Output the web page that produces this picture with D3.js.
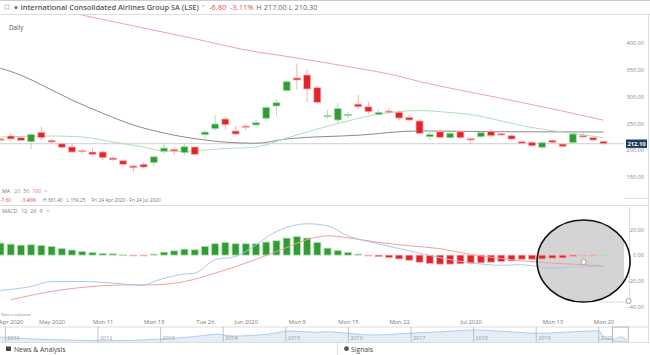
<!DOCTYPE html>
<html><head><meta charset="utf-8">
<script src="https://cdn.jsdelivr.net/npm/d3@7/dist/d3.min.js"></script>
<style>
body{margin:0;background:#fff;}
svg{display:block;font-family:"Open Sans",Lato,sans-serif;}
</style></head><body>
<svg id="c" width="650" height="355"></svg>
<script>
// ---------------- DATA ----------------
const ohlc = [ // [open, high, low, close], daily, Fri 24 Apr 2020 onward
[221,223,218,219.5],[226.5,232,217,221],[223.3,225,216.5,218.4],[215.8,231.5,201.6,229.6],[233.4,243.8,219,223.3],
[218.4,220.3,211,215.3],[212,214,202.8,205.4],[206,212,194,196.6],[199.5,203.5,194,199],[196.6,203.5,187.8,192.3],
[196.6,200,181.7,186],[185.4,187.8,180,182.2],[180.4,183,171,173.7],[170.5,173,159.25,167.4],[173.7,177.4,166,168.6],
[176.6,189,169,187.8],[198,212.8,193,204],[201.6,205.4,191,198.5],[195.3,211.5,191.6,206.5],[206,207.8,190,192.3],
[228.9,237.6,219,233.9],[240,265.6,236.3,248.9],[258.2,262.5,239,247.5],[235.8,245,228,230.2],[245,248.9,237.6,242.7],
[247,256.3,243.8,251.3],[259.5,282.4,254.5,280],[282.4,293.6,265,288.6],[311,331,307,327.8],[334.7,361.4,313.6,331],
[340.3,351,289,314.2],[316.6,319.8,285.6,289.3],[262.5,275,259.5,265],[256.3,288.6,248.9,278],[264.3,272,259.5,267],
[286,303,276,281],[281,290.5,267.5,272],[266.3,276,264.3,270.7],[273,278.7,267.5,271],[270.7,273.7,256.3,260],
[261.3,265.6,254.5,256.3],[254.5,257.6,230.2,231.5],[225,234.5,219,229.6],[234.5,239,222.2,224],[223.3,234.5,220.3,231.5],
[234.5,236.3,220.8,223.3],[221.4,223.3,211,219],[225,236.3,223.3,232.6],[235.2,239.5,225,227],[230.8,236.3,226.5,228.3],
[227,229.6,219,220.8],[215.8,217.7,211,212.8],[214.7,217,206.5,208.3],[205.4,215.8,202,214],[218.4,220.8,212.8,214.7],
[211.5,214,205.4,207.2],[214,232.6,212.8,230.2],[227,232.6,223.3,224.6],[223.3,226.5,217,218.9],[216.5,217,210.3,212.1]
];
const lastPrice = 212.10;
// moving averages, [day index, value]
const ma20 = [[0,224.6],[5,226.5],[8,224.6],[11,215.3],[14,206],[16,198.5],[18,197.6],[20,200.3],[22,203],[25,206],[28,222.7],[31,239.5],[34,254.5],[37,267.5],[39,272],[41,274],[44,270.3],[46,266.6],[49,254.5],[52,242.3],[55,234],[59,223.3]];
const ma50 = [[0,353],[2,340],[4,322],[7,293.6],[10,269],[13,247],[16,232],[20,219],[22,215],[25,213],[28,221],[35,228],[41,236],[49,234.5],[59,234]];
const ma100 = [[0,486],[8,452],[19,408],[24,387],[29,372],[34,356],[39,338],[41,328],[45,312],[50,293],[55,273],[59,256]];
// MACD 12 26 9
const macdHist = [9.3,8.5,7.7,8.0,7.5,6.7,5.1,3.9,2.8,2.0,1.3,1.0,0.2,-0.4,-0.5,0.8,2.3,3.3,4.6,4.1,
6.7,8.8,9.8,8.8,8.8,8.8,10.1,11.1,13.2,14.4,13.2,9.8,5.4,3.5,2.0,0.8,-0.5,-1.2,-2.0,-3.0,
-4.0,-5.5,-6.5,-7.0,-7.0,-6.8,-6.5,-6.0,-5.5,-5.0,-4.5,-3.2,-3.2,-3.0,-2.4,-2.2,-1.0,-0.3,-0.3,0];
const macdLine = [[0,-27.4],[3,-24.3],[5,-20.5],[8,-20.5],[11,-21.7],[14,-23.5],[15,-20.5],[18,-14.7],[19,-14],[21,-3.6],[23,-1.1],[24,2.8],[27,18.3],[29,23.5],[30,24.3],[32,22.7],[34,14.9],[37,8.7],[40,3.3],[43,-2],[46,-6],[49,-7.9],[51,-7.5],[54,-10.2],[56,-9.3],[59,-8.7]];
const signalLine = [[1,-34.6],[6,-26.9],[13,-23],[15,-23],[18,-20.5],[21,-14],[24,-6.2],[27,2.8],[31,14],[32,15],[34,13.4],[37,9.9],[40,7.2],[43,5],[46,0.5],[49,-2.6],[51,-4.5],[54,-6.2],[56,-7.1],[59,-8.3]];
// axis ticks
const xTickIdx = [1,5,10,15,20,24,29,34,39,46,54,59];
const xTickLabels = ["Apr 2020","May 2020","Mon 11","Mon 18","Tue 26","Jun 2020","Mon 8","Mon 15","Mon 22","Jul 2020","Mon 13","Mon 20"];
const priceTicks = [150,200,250,300,350,400];
const macdTicks = [-40,-20,0,20];
// navigator (history since 2010)
const navSeries = [[2010.43,267],[2010.96,160],[2011.5,107],[2012.03,70],[2012.56,90],[2012.99,160],[2013.52,283],[2013.9,411],[2014.16,320],[2014.7,411],[2015.07,587],[2015.5,517],[2015.63,550],[2015.99,464],[2016.42,373],[2016.95,464],[2017.5,550],[2018.02,640],[2018.55,550],[2019.03,464],[2019.62,550],[2019.99,603],[2020.1,197],[2020.26,144],[2020.34,267],[2020.45,107]];
const navYearPos = [2010.52,2012,2013,2014,2015,2016,2017,2018,2019,2020];
const navYearLabels = ["2010","2012","2013","2014","2015","2016","2017","2018","2019","2020"];
// ellipse annotation in data coordinates
const annot = {cx:57.05, cy:-4.6, rx:4.55, ry:31.8};

// ---------------- SCALES ----------------
const svg = d3.select("#c");
const W = 650;
const x = d3.scaleLinear().domain([0,59]).range([0.5,603.5]);
const yP = d3.scaleLinear().domain([150,400]).range([177,43]);
const yM = d3.scaleLinear().domain([-40,20]).range([306.7,229.3]);
const navX = d3.scaleLinear().domain([2012,2020]).range([98,598.8]);
const navY = d3.scaleLinear().domain([0,800]).range([342,327]);

const UP="#2f9d34", UPL="#b3deb3", DN="#e2232a", DNL="#f6b0b2";

// clip paths
const defs = svg.append("defs");
defs.append("clipPath").attr("id","pclip").append("rect").attr("x",0).attr("y",15).attr("width",624).attr("height",172);
defs.append("clipPath").attr("id","mclip").append("rect").attr("x",0).attr("y",207).attr("width",624).attr("height",106);

// ---------------- CHROME ----------------
svg.append("line").attr("x1",0).attr("x2",W).attr("y1",0.5).attr("y2",0.5).attr("stroke","#ccc");
svg.append("line").attr("x1",0).attr("x2",W).attr("y1",14.5).attr("y2",14.5).attr("stroke","#ddd");
svg.append("line").attr("x1",648.5).attr("x2",648.5).attr("y1",14).attr("y2",343).attr("stroke","#ddd");
svg.append("line").attr("x1",0).attr("x2",648).attr("y1",205.5).attr("y2",205.5).attr("stroke","#ddd");

// header
svg.append("rect").attr("x",5).attr("y",5).attr("width",4).attr("height",4).attr("fill","none").attr("stroke","#bbb").attr("stroke-width",0.8);
svg.append("circle").attr("cx",16).attr("cy",7.5).attr("r",1.6).attr("fill","#2a9d2a");
const hdr = svg.append("text").attr("x",20.5).attr("y",10).attr("font-size",7.4).attr("fill","#555");
hdr.append("tspan").attr("font-weight",600).text("International Consolidated Airlines Group SA (LSE)");
hdr.append("tspan").attr("fill","#aaa").attr("dx",3).text("\u02C5");
hdr.append("tspan").attr("fill","#e04a4a").attr("dx",4).text("-6.80");
hdr.append("tspan").attr("fill","#e04a4a").attr("dx",4).text("-3.11%");
hdr.append("tspan").attr("fill","#666").attr("dx",3).text("H 217.00 L 210.30");
svg.append("text").attr("x",9).attr("y",30).attr("font-size",6.3).attr("fill","#555").text("Daily");

// ---------------- PRICE PANEL ----------------
const pg = svg.append("g").attr("clip-path","url(#pclip)");
pg.append("line").attr("x1",0).attr("x2",626).attr("y1",yP(lastPrice)).attr("y2",yP(lastPrice)).attr("stroke","#d0d0d0");
const lineP = d3.line().x(d=>x(d[0])).y(d=>yP(d[1])).curve(d3.curveMonotoneX);
pg.append("path").attr("d",lineP(ma100)).attr("fill","none").attr("stroke","#f4a3a3").attr("stroke-width",1);
pg.append("path").attr("d",lineP(ma50)).attr("fill","none").attr("stroke","#8a8a8a").attr("stroke-width",1);
pg.append("path").attr("d",lineP(ma20)).attr("fill","none").attr("stroke","#b2dfb2").attr("stroke-width",1);

const cg = pg.selectAll("g.c").data(ohlc).join("g");
cg.append("line").attr("x1",(d,i)=>x(i)).attr("x2",(d,i)=>x(i))
  .attr("y1",d=>yP(d[1])).attr("y2",d=>yP(d[2]))
  .attr("stroke",d=>d[3]>=d[0]?UPL:DNL).attr("stroke-width",1);
cg.append("rect").attr("x",(d,i)=>x(i)-3.5).attr("width",7)
  .attr("y",d=>yP(Math.max(d[0],d[3])))
  .attr("height",d=>Math.max(1.2,Math.abs(yP(d[0])-yP(d[3]))))
  .attr("fill",d=>d[3]>=d[0]?UP:DN)
  .attr("stroke",d=>d[3]>=d[0]?UPL:DNL).attr("stroke-width",0.8);

// price axis
const pax = svg.append("g").attr("transform","translate(644,0)")
  .call(d3.axisLeft(yP).tickValues(priceTicks).tickFormat(d3.format(".2f")).tickSize(0).tickPadding(0));
pax.select(".domain").remove();
pax.selectAll("text").attr("font-size",5.6).attr("fill","#8a8a8a").attr("font-family","'Open Sans',sans-serif");
svg.append("line").attr("x1",624).attr("x2",648).attr("y1",198.5).attr("y2",198.5).attr("stroke","#ddd");
// last price box
svg.append("rect").attr("x",626).attr("y",yP(lastPrice)-4.2).attr("width",21).attr("height",8.4).attr("fill","#1e3a5f");
svg.append("text").attr("x",636.5).attr("y",yP(lastPrice)+2).attr("text-anchor","middle").attr("font-size",5.8).attr("font-weight",700).attr("fill","#fff").text(d3.format(".2f")(lastPrice));

// MA legend
const l1 = svg.append("text").attr("x",2).attr("y",193).attr("font-size",5.3).attr("fill","#777");
l1.append("tspan").text("MA");
l1.append("tspan").attr("dx",4).attr("fill","#5cb85c").text("20");
l1.append("tspan").attr("dx",3).attr("fill","#888").text("50");
l1.append("tspan").attr("dx",3).attr("fill","#e66").text("100");
l1.append("tspan").attr("dx",3).attr("fill","#999").text("\u00D7");
const l2 = svg.append("text").attr("x",0).attr("y",201.5).attr("font-size",4.8).attr("fill","#777");
l2.append("tspan").attr("fill","#e04a4a").text("-7.60");
l2.append("tspan").attr("fill","#e04a4a").attr("dx",10).text("-3.46%");
l2.append("tspan").attr("dx",7).text("H 361.40");
l2.append("tspan").attr("dx",4).text("L 159.25");
l2.append("tspan").attr("dx",6).text("Fri 24 Apr 2020 - Fri 24 Jul 2020");
const l3 = svg.append("text").attr("x",2).attr("y",213).attr("font-size",5.3).attr("fill","#777");
l3.append("tspan").text("MACD");
l3.append("tspan").attr("dx",4).text("12");
l3.append("tspan").attr("dx",3).text("26");
l3.append("tspan").attr("dx",3).text("9");
l3.append("tspan").attr("dx",4).attr("fill","#999").text("\u00D7");

// ---------------- MACD PANEL ----------------
const mg = svg.append("g").attr("clip-path","url(#mclip)");
const ecx = x(annot.cx), ecy = yM(annot.cy);
const erx = x(annot.cx+annot.rx)-ecx, ery = yM(annot.cy-annot.ry)-ecy;
mg.append("ellipse").attr("cx",ecx).attr("cy",ecy).attr("rx",erx).attr("ry",ery)
  .attr("fill","#d4d4d4").attr("stroke","none");
mg.selectAll("rect.h").data(macdHist).join("rect")
  .attr("x",(d,i)=>x(i)-3.5).attr("width",7)
  .attr("y",d=>d>=0?yM(d):yM(0))
  .attr("height",d=>Math.max(0.8,Math.abs(yM(d)-yM(0))))
  .attr("fill",d=>d>=0?UP:DN).attr("stroke",d=>d>=0?UPL:DNL).attr("stroke-width",0.8);
const lineM = d3.line().x(d=>x(d[0])).y(d=>yM(d[1])).curve(d3.curveMonotoneX);
mg.append("path").attr("d",lineM(signalLine)).attr("fill","none").attr("stroke","#f0a0a0").attr("stroke-width",1);
mg.append("path").attr("d",lineM(macdLine)).attr("fill","none").attr("stroke","#a8c9ec").attr("stroke-width",1);
svg.append("line").attr("x1",ecx+erx-0.5).attr("x2",ecx+erx-0.5).attr("y1",207).attr("y2",ecy+ery).attr("stroke","#ddd");
svg.append("line").attr("x1",ecx+erx-30).attr("x2",ecx+erx).attr("y1",ecy+ery).attr("y2",ecy+ery).attr("stroke","#ddd");
svg.append("ellipse").attr("cx",ecx).attr("cy",ecy).attr("rx",erx).attr("ry",ery)
  .attr("fill","none").attr("stroke","#111").attr("stroke-width",1.6);
svg.append("circle").attr("cx",ecx).attr("cy",ecy+1).attr("r",2.6).attr("fill","#fff").attr("stroke","#999").attr("stroke-width",0.9);
svg.append("circle").attr("cx",ecx+erx-1.5).attr("cy",ecy+ery-1).attr("r",2.6).attr("fill","#fff").attr("stroke","#999").attr("stroke-width",0.9);

const max = svg.append("g").attr("transform","translate(644,0)")
  .call(d3.axisLeft(yM).tickValues(macdTicks).tickFormat(d3.format(".2f")).tickSize(0).tickPadding(0));
max.select(".domain").remove();
max.selectAll("text").attr("font-size",5.6).attr("fill","#8a8a8a").attr("font-family","'Open Sans',sans-serif");

// ---------------- X AXIS ----------------
svg.append("text").attr("x",1).attr("y",316).attr("font-size",3.8).attr("fill","#888").text("Data is indicative");
const xax = svg.append("g").attr("transform","translate(0,319.5)")
  .call(d3.axisBottom(x).tickValues(xTickIdx).tickFormat((d,i)=>xTickLabels[i]).tickSize(0).tickPadding(0));
xax.select(".domain").remove();
xax.selectAll("text").attr("font-size",5.8).attr("fill","#7a7a7a").attr("font-family","'Open Sans',sans-serif");

// ---------------- NAVIGATOR ----------------
svg.append("line").attr("x1",0).attr("x2",648).attr("y1",327).attr("y2",327).attr("stroke","#ddd");
const area = d3.area().x(d=>navX(d[0])).y0(navY(0)).y1(d=>navY(d[1])).curve(d3.curveMonotoneX);
svg.append("path").attr("d",area(navSeries)).attr("fill","#e4eef9");
svg.append("path").attr("d",d3.line().x(d=>navX(d[0])).y(d=>navY(d[1])).curve(d3.curveMonotoneX)(navSeries))
  .attr("fill","none").attr("stroke","#9fc3e8").attr("stroke-width",0.8);
svg.selectAll("line.ny").data(navYearPos).join("line")
  .attr("x1",d=>navX(d)).attr("x2",d=>navX(d)).attr("y1",327).attr("y2",342).attr("stroke","#aaa").attr("stroke-width",0.7);
svg.selectAll("text.ny").data(navYearPos).join("text")
  .attr("x",d=>navX(d)+2).attr("y",340).attr("font-size",5.4).attr("fill","#999").text((d,i)=>navYearLabels[i]);
svg.append("rect").attr("x",navX(2020.22)).attr("y",327).attr("width",navX(2020.47)-navX(2020.22)).attr("height",15)
  .attr("fill","none").attr("stroke","#aaa").attr("stroke-width",0.8);
svg.append("line").attr("x1",0).attr("x2",W).attr("y1",342.5).attr("y2",342.5).attr("stroke","#ddd");

// ---------------- FOOTER ----------------
svg.append("line").attr("x1",337.5).attr("x2",337.5).attr("y1",343).attr("y2",355).attr("stroke","#ddd");
svg.append("rect").attr("x",6).attr("y",346.5).attr("width",5).attr("height",4.5).attr("fill","#444");
svg.append("text").attr("x",14).attr("y",351.5).attr("font-size",6.8).attr("fill","#444").text("News & Analysis");
svg.append("circle").attr("cx",346.5).attr("cy",348.7).attr("r",2.4).attr("fill","#555");
svg.append("text").attr("x",351).attr("y",351.5).attr("font-size",6.8).attr("fill","#444").text("Signals");
</script>
</body></html>
